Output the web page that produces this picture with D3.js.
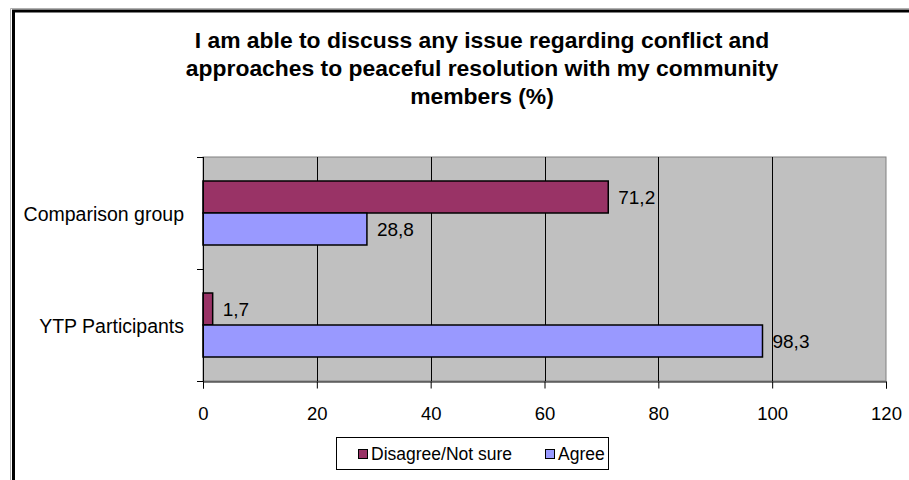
<!DOCTYPE html>
<html>
<head>
<meta charset="utf-8">
<script src="https://cdn.jsdelivr.net/npm/d3@7"></script>
<style>
  html, body { margin: 0; padding: 0; background: #fff; }
  svg { display: block; font-family: "Liberation Sans", Arial, sans-serif; }
</style>
</head>
<body>
<svg id="chart" width="909" height="480"></svg>
<script>
const titleLines = [
  "I am able to discuss any issue regarding conflict and",
  "approaches to peaceful resolution with my community",
  "members (%)"
];
const categories = ["Comparison group", "YTP Participants"];
const seriesNames = ["Disagree/Not sure", "Agree"];
const disagreeValues = [71.2, 1.7];
const agreeValues = [28.8, 98.3];
const valueLabels = [["71,2", "28,8"], ["1,7", "98,3"]];
const xTicks = [0, 20, 40, 60, 80, 100, 120];
const seriesColors = ["#993366", "#9999FF"];

const svg = d3.select("#chart");

// Outer frame (cut off at right and bottom)
svg.append("path").attr("d", "M10.5,480 V8.5 H909").attr("fill", "none").attr("stroke", "#b0b0b0").attr("stroke-width", 1);
svg.append("path").attr("d", "M13.5,480 V11 H909").attr("fill", "none").attr("stroke", "#000").attr("stroke-width", 3);

// Title
const title = svg.append("text").attr("text-anchor", "middle").attr("font-size", 22).attr("font-weight", "bold")
  .attr("fill", "#000").attr("transform", "translate(482,0) scale(1.04,1)");
titleLines.forEach((t, i) => {
  title.append("tspan").attr("x", 0).attr("y", 48 + i * 28).text(t);
});

const x = d3.scaleLinear().domain([0, 120]).range([203, 886]);
const y = d3.scaleBand().domain(categories).range([157, 381]).paddingInner(0).paddingOuter(0);
const ys = d3.scaleBand().domain(seriesNames).range([0, y.bandwidth()]).paddingInner(0).paddingOuter(0.75);

// Plot area
svg.append("rect").attr("x", x(0)).attr("y", 157).attr("width", x(120) - x(0)).attr("height", 381 - 157)
  .attr("fill", "#C0C0C0").attr("stroke", "#808080").attr("stroke-width", 1);

// Gridlines
svg.append("g").selectAll("line").data(xTicks.filter(d => d > 0 && d < 120)).join("line")
  .attr("x1", d => Math.round(x(d)) + 0.5).attr("x2", d => Math.round(x(d)) + 0.5)
  .attr("y1", 157).attr("y2", 381).attr("stroke", "#000").attr("stroke-width", 1);

// Bars
const data = [];
categories.forEach((c, i) => {
  data.push({cat: c, s: seriesNames[0], v: disagreeValues[i], lab: valueLabels[i][0], col: seriesColors[0]});
  data.push({cat: c, s: seriesNames[1], v: agreeValues[i], lab: valueLabels[i][1], col: seriesColors[1]});
});

svg.append("g").selectAll("rect").data(data).join("rect")
  .attr("x", x(0)).attr("y", d => y(d.cat) + ys(d.s))
  .attr("width", d => x(d.v) - x(0)).attr("height", ys.bandwidth())
  .attr("fill", d => d.col).attr("stroke", "#000").attr("stroke-width", 1.5);

svg.append("g").selectAll("text").data(data).join("text")
  .attr("x", d => x(d.v) + 10).attr("y", d => y(d.cat) + ys(d.s) + ys.bandwidth() / 2 + 7)
  .attr("font-size", 19).attr("fill", "#000").text(d => d.lab);

// X axis
const xAxis = svg.append("g").attr("transform", "translate(0,381.5)")
  .call(d3.axisBottom(x).tickValues(xTicks).tickSize(7).tickPadding(0).tickFormat(d3.format("d")));
xAxis.select(".domain").attr("stroke", "#000");
xAxis.selectAll(".tick line").attr("stroke", "#000");
xAxis.selectAll("text").attr("font-size", 18.5).attr("font-family", "Liberation Sans, Arial, sans-serif").attr("fill", "#000").attr("dy", null).attr("y", 38.5);

// Y axis
svg.append("line").attr("x1", 203.5).attr("x2", 203.5).attr("y1", 157).attr("y2", 381.5).attr("stroke", "#000");
const yTickPos = [157, 157 + y.step(), 381];
svg.append("g").selectAll("line").data(yTickPos).join("line")
  .attr("x1", 197).attr("x2", 203.5).attr("y1", d => Math.round(d) + 0.5).attr("y2", d => Math.round(d) + 0.5)
  .attr("stroke", "#000");
svg.append("g").selectAll("text").data(categories).join("text")
  .attr("x", 184).attr("y", d => y(d) + y.bandwidth() / 2 + 7.5)
  .attr("text-anchor", "end").attr("font-size", 19.5).attr("fill", "#000").text(d => d);

// Legend
const lg = svg.append("g");
lg.append("rect").attr("x", 336.5).attr("y", 437.5).attr("width", 272).attr("height", 32)
  .attr("fill", "#fff").attr("stroke", "#000").attr("stroke-width", 1);
const legendX = [358, 545];
seriesNames.forEach((s, i) => {
  lg.append("rect").attr("x", legendX[i] + 0.5).attr("y", 449.5).attr("width", 9).attr("height", 9)
    .attr("fill", seriesColors[i]).attr("stroke", "#000").attr("stroke-width", 1);
  lg.append("text").attr("x", legendX[i] + 13).attr("y", 459.5).attr("font-size", 17.5).attr("fill", "#000").text(s);
});
</script>
</body>
</html>
